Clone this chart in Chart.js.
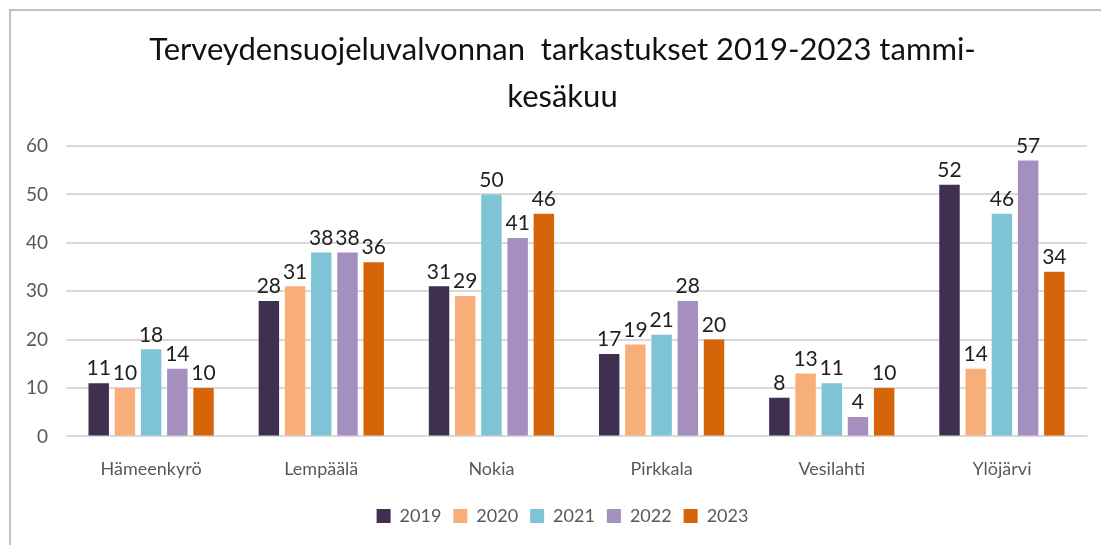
<!DOCTYPE html>
<html>
<head>
<meta charset="utf-8">
<script src="https://cdn.jsdelivr.net/npm/chart.js@4.4.0/dist/chart.umd.min.js"></script>
<style>
    body { margin: 0; background: #fff; overflow: hidden; }
    #frame {
        position: absolute;
        left: 9px;
        top: 9px;
        width: 1092px;
        height: 536px;
        border-top: 2px solid #c0c0c0;
        border-left: 2px solid #c0c0c0;
        box-sizing: border-box;
    }
    #clip { position: absolute; left: 0; top: 0; width: 1101px; height: 545px; overflow: hidden; }
    #wrap { position: absolute; left: 0; top: 0; width: 1131px; height: 545px; }
</style>
</head>
<body>
<div id="frame"></div>
<div id="clip"><div id="wrap"><canvas id="inspectionsChart"></canvas></div></div>
<script>
// Chart data
const municipalities = ['Hämeenkyrö', 'Lempäälä', 'Nokia', 'Pirkkala', 'Vesilahti', 'Ylöjärvi'];
const years = ['2019', '2020', '2021', '2022', '2023'];
const values2019 = [11, 28, 31, 17, 8, 52];
const values2020 = [10, 31, 29, 19, 13, 14];
const values2021 = [18, 38, 50, 21, 11, 46];
const values2022 = [14, 38, 41, 28, 4, 57];
const values2023 = [10, 36, 46, 20, 10, 34];
const yTicks = [0, 10, 20, 30, 40, 50, 60];

const colors = ['#3f3052', '#f8ae78', '#7ec4d6', '#a48fbf', '#d6650a'];
const series = [values2019, values2020, values2021, values2022, values2023];
const fontFamily = 'Lato, "Open Sans", sans-serif';

// Simple value labels above bars
const valueLabels = {
    id: 'valueLabels',
    afterDatasetsDraw(chart) {
        const ctx = chart.ctx;
        ctx.save();
        ctx.font = '21px ' + fontFamily;
        ctx.fillStyle = '#1f1f1f';
        ctx.textAlign = 'center';
        ctx.textBaseline = 'bottom';
        chart.data.datasets.forEach((ds, i) => {
            const meta = chart.getDatasetMeta(i);
            meta.data.forEach((bar, j) => {
                ctx.fillText(ds.data[j], bar.x, bar.y - 4);
            });
        });
        ctx.restore();
    }
};

new Chart(document.getElementById('inspectionsChart'), {
    type: 'bar',
    data: {
        labels: municipalities,
        datasets: years.map((y, i) => ({
            label: y,
            data: series[i],
            backgroundColor: colors[i],
            categoryPercentage: 0.77,
            barPercentage: 0.78
        }))
    },
    options: {
        responsive: true,
        maintainAspectRatio: false,
        animation: false,
        layout: {
            padding: { left: 8, right: 14, top: 27, bottom: 10 }
        },
        plugins: {
            title: {
                display: true,
                text: ['Terveydensuojeluvalvonnan  tarkastukset 2019-2023 tammi-', 'kesäkuu'],
                color: '#111111',
                font: { family: fontFamily, size: 31, weight: 'normal', lineHeight: 1.5 },
                padding: { top: 0, bottom: 26 }
            },
            legend: {
                position: 'bottom',
                labels: {
                    color: '#595959',
                    font: { family: fontFamily, size: 18 },
                    boxWidth: 14,
                    boxHeight: 14,
                    padding: 12
                }
            },
            tooltip: { enabled: false }
        },
        scales: {
            x: {
                grid: { display: false },
                border: { color: '#d9d9d9' },
                afterFit: axis => { axis.height += 1; },
                ticks: {
                    color: '#595959',
                    font: { family: fontFamily, size: 18 },
                    padding: 14
                }
            },
            y: {
                min: 0,
                max: 60,
                afterBuildTicks: axis => { axis.ticks = yTicks.map(v => ({ value: v })); },
                grid: { color: '#d9d9d9', lineWidth: 2, drawTicks: false },
                border: { display: false },
                ticks: {
                    color: '#595959',
                    font: { family: fontFamily, size: 19 },
                    padding: 18
                }
            },
            // empty spacer on the right (frame continues past the picture edge)
            spacer: {
                type: 'linear',
                position: 'right',
                min: 0,
                max: 60,
                grid: { display: false, drawOnChartArea: false, drawTicks: false },
                border: { display: false },
                ticks: { display: false },
                afterFit: axis => { axis.width = 30; }
            }
        }
    },
    plugins: [valueLabels]
});
</script>
</body>
</html>
